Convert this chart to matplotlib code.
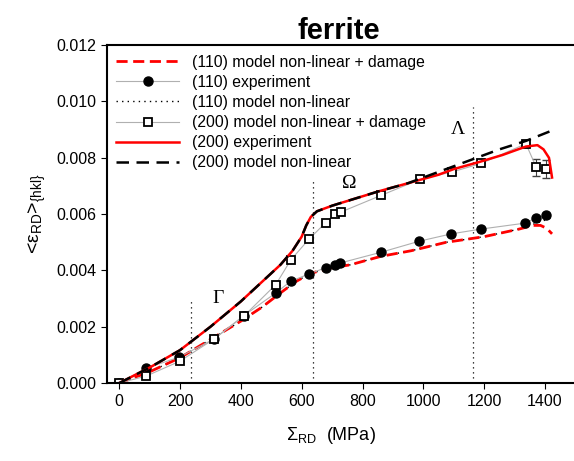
import matplotlib
matplotlib.use("Agg")
import matplotlib.pyplot as plt

plt.rcParams['font.family'] = ['Liberation Sans', 'DejaVu Sans']
plt.rcParams['mathtext.fontset'] = 'custom'
plt.rcParams['mathtext.rm'] = 'Liberation Sans'
plt.rcParams['mathtext.it'] = 'Liberation Sans:italic'

# (110) experiment
exp110_x = [0, 89, 197, 311, 410, 515, 564, 623, 679, 708, 725, 862, 987, 1092, 1190, 1334, 1370, 1403]
exp110_y = [0.0, 0.00053, 0.00092, 0.00156, 0.0024, 0.0032, 0.00362, 0.00387, 0.0041, 0.0042, 0.00426,
            0.00465, 0.00504, 0.0053, 0.00547, 0.00568, 0.00586, 0.00596]

# (200) squares
exp200_x = [0, 89, 200, 311, 410, 515, 564, 623, 679, 708, 728, 862, 990, 1095, 1190, 1337, 1371, 1403]
exp200_y = [0.0, 0.00025, 0.00078, 0.00156, 0.00238, 0.0035, 0.00437, 0.0051, 0.0057, 0.0060, 0.00607,
            0.00667, 0.00724, 0.0075, 0.0078, 0.0085, 0.00767, 0.0076]
exp200_err = [0, 0, 0, 0, 0, 0, 0, 0, 0, 0, 0, 0, 0, 0, 0, 0, 0.0003, 0.00032]

# upper model curve (black dashed)
up_x = [0, 100, 200, 300, 400, 480, 530, 570, 600, 615, 630, 650, 700, 760, 850, 950, 1050, 1150, 1250, 1337, 1430]
up_y = [0.0, 0.00055, 0.00117, 0.0020, 0.0029, 0.0037, 0.0042, 0.0047, 0.0052, 0.0056, 0.0059, 0.0061,
        0.0063, 0.0065, 0.0068, 0.0071, 0.0075, 0.0079, 0.0083, 0.0086, 0.0090]

# upper curve red solid
red_x = [0, 100, 200, 300, 400, 480, 530, 570, 600, 615, 630, 650, 700, 760, 850, 950, 1050, 1100, 1183,
         1260, 1337, 1375, 1395, 1413, 1423]
red_y = [0.0, 0.00055, 0.00117, 0.0020, 0.0029, 0.0037, 0.0042, 0.0047, 0.0052, 0.0056, 0.0059, 0.0061,
         0.0063, 0.0065, 0.0068, 0.0071, 0.0074, 0.0076, 0.00785, 0.0081, 0.0084, 0.00845, 0.0083, 0.0080, 0.0073]

# lower curve red dashed
low_x = [0, 100, 200, 300, 400, 470, 530, 580, 630, 700, 760, 860, 960, 1075, 1200, 1315, 1360, 1385, 1405, 1423]
low_y = [0.0, 0.0004, 0.0009, 0.00155, 0.0022, 0.0027, 0.0032, 0.0036, 0.0039, 0.0041, 0.0042, 0.0045,
         0.0047, 0.0050, 0.0052, 0.00547, 0.0056, 0.0056, 0.0055, 0.0053]

# lower curve black dotted
nl110_x = [0, 100, 200, 300, 400, 470, 530, 580, 630, 700, 760, 860, 960, 1075, 1200, 1315, 1430]
nl110_y = [0.0, 0.0004, 0.0009, 0.00155, 0.0022, 0.0027, 0.0032, 0.0036, 0.0039, 0.0041, 0.0042, 0.0045,
           0.0047, 0.0050, 0.0052, 0.00547, 0.0059]

# vertical markers: position, top, label, label x, label y
vlines_x = [236, 636, 1164]
vlines_top = [0.00295, 0.0073, 0.0098]
vlabels = ['Γ', 'Ω', 'Λ']
vlabel_x = [325, 755, 1115]
vlabel_y = [0.0027, 0.0068, 0.0087]

fig = plt.figure(figsize=(5.74, 4.61), dpi=100)
ax = fig.add_axes([0.1864, 0.169, 0.84, 0.733])

for x, t in zip(vlines_x, vlines_top):
    ax.plot([x, x], [0, t], color='black', linestyle=(0, (1, 3)), linewidth=0.9)
for lab, x, y in zip(vlabels, vlabel_x, vlabel_y):
    ax.text(x, y, lab, family='Liberation Serif', fontsize=14, ha='center', va='bottom')

l_nl110, = ax.plot(nl110_x, nl110_y, color='black', linestyle=(0, (1, 3)), linewidth=1)
l_low, = ax.plot(low_x, low_y, color='red', linestyle=(0, (4, 2)), linewidth=2)
l_exp110, = ax.plot(exp110_x, exp110_y, color='#b0b0b0', linewidth=0.8, marker='o',
                    markersize=6.5, markerfacecolor='black', markeredgecolor='black')
ax.errorbar(exp200_x, exp200_y, yerr=exp200_err, fmt='none', ecolor='#404040', elinewidth=0.8, capsize=3)
l_exp200, = ax.plot(exp200_x, exp200_y, color='#b0b0b0', linewidth=0.8, marker='s',
                    markersize=5.5, markerfacecolor='white', markeredgecolor='black', markeredgewidth=1.3)
l_red, = ax.plot(red_x, red_y, color='red', linewidth=1.8)
l_up, = ax.plot(up_x, up_y, color='black', linestyle=(0, (5, 3)), linewidth=1.8)

ax.legend([l_low, l_exp110, l_nl110, l_exp200, l_red, l_up],
          ['(110) model non-linear + damage', '(110) experiment', '(110) model non-linear',
           '(200) model non-linear + damage', '(200) experiment', '(200) model non-linear'],
          loc='upper left', bbox_to_anchor=(0.0, 1.0), frameon=False, fontsize=11.3,
          handlelength=4.0, handletextpad=0.8, labelspacing=0.33, borderaxespad=0.2)

ax.set_xlim(-40, 1545)
ax.set_ylim(0, 0.012)
ax.set_xticks([0, 200, 400, 600, 800, 1000, 1200, 1400])
ax.set_yticks([0, 0.002, 0.004, 0.006, 0.008, 0.010, 0.012])
ax.set_yticklabels(['0.000', '0.002', '0.004', '0.006', '0.008', '0.010', '0.012'])
ax.tick_params(direction='out', length=4, labelsize=11.5, top=False, right=False)
for s in ax.spines.values():
    s.set_linewidth(1.5)

ax.set_xlabel('Σ$_{\\mathrm{RD}}$  (MPa)', fontsize=13, labelpad=12, x=0.465)
ax.set_ylabel('<ε$_{\\mathrm{RD}}$>$_{\\{\\mathrm{hkl}\\}}$', fontsize=14, labelpad=6)
ax.set_title('ferrite', fontsize=21, fontweight='bold', pad=3, x=0.48)

fig.savefig('out.png', dpi=100)
